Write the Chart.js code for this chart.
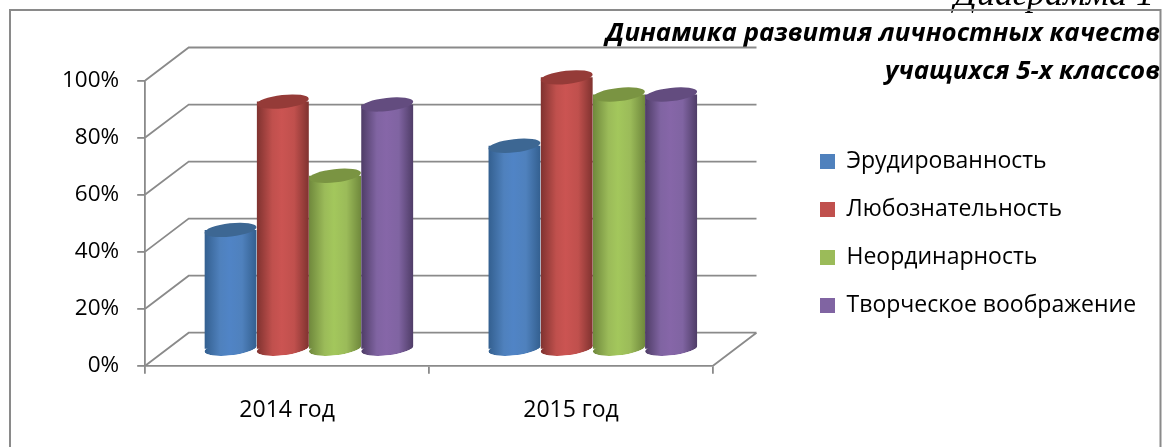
<!DOCTYPE html>
<html lang="ru">
  <head>
    <meta charset="UTF-8" />
    <title>Динамика развития личностных качеств</title>
    <style>
      html, body { margin: 0; padding: 0; background: #fff; overflow: hidden; }
      canvas { display: block; }
    </style>
    <script src="https://cdn.jsdelivr.net/npm/chart.js"></script>
  </head>
  <body>
    <canvas id="chart" width="1163" height="447"></canvas>
    <script>
      // values, percent
      const categories = ["2014 год", "2015 год"];
      const seriesNames = ["Эрудированность", "Любознательность", "Неординарность", "Творческое воображение"];
      const erudition = [42, 71.5];
      const curiosity = [87, 95.5];
      const originality = [61, 89.5];
      const imagination = [86, 89.5];
      const yTicks = [0, 20, 40, 60, 80, 100];
      const chartTitle = ["Динамика развития личностных качеств", "учащихся 5-х классов"];
      const pageCaption = "Диаграмма 1";

      const seriesValues = [erudition, curiosity, originality, imagination];

      // centre, edge and cap colour of each cylinder
      const mainColors = ["#4f81bd", "#c0504d", "#9bbb59", "#8064a2"];
      const lightColors = ["#5084c6", "#cb5452", "#a3c75c", "#8666a8"];
      const edgeColors = ["#335f8f", "#7f322f", "#6f883c", "#4e3c66"];
      const capColors = ["#3d6793", "#953b38", "#7a9442", "#634c7f"];

      const lineGrey = "#8a8a8a";
      const uiFont = "Open Sans";
      const catPct = 0.736;
      const depthX = 43.5; // depth of the floor
      const depthY = -33;
      const barX = depthX / 2; // bars stand in the middle of it
      const barY = -16;
      const capRy = 6.6;
      const capTilt = (-6.5 * Math.PI) / 180;

      function sideGradient(c) {
        const ds = c.datasetIndex;
        const x = c.chart.scales.x;
        const y = c.chart.ctx;
        const groupW = (x.width / categories.length) * catPct;
        const w = groupW / seriesValues.length;
        const left = x.getPixelForValue(c.dataIndex) - groupW / 2 + ds * w;
        const g = y.createLinearGradient(left, 0, left + w, 0);
        g.addColorStop(0, edgeColors[ds]);
        g.addColorStop(0.3, mainColors[ds]);
        g.addColorStop(0.48, lightColors[ds]);
        g.addColorStop(0.72, mainColors[ds]);
        g.addColorStop(1, edgeColors[ds]);
        return g;
      }

      function cylinderEnd(ctx, bar, y) {
        ctx.ellipse(bar.x, y, bar.width / 2, capRy, capTilt, 0, Math.PI * 2);
      }

      const wallPlugin = {
        id: "wall",
        beforeDatasetsDraw(chart) {
          const ctx = chart.ctx;
          const xs = chart.scales.x;
          const ys = chart.scales.y;
          ctx.save();
          ctx.strokeStyle = lineGrey;
          ctx.lineWidth = 1.8;
          ctx.beginPath();
          ys.ticks.forEach((t) => {
            const y = ys.getPixelForValue(t.value);
            ctx.moveTo(xs.left, y);
            ctx.lineTo(xs.left + depthX, y + depthY);
            ctx.lineTo(xs.right + depthX, y + depthY);
          });
          const y0 = ys.getPixelForValue(0);
          ctx.moveTo(xs.right, y0);
          ctx.lineTo(xs.right + depthX, y0 + depthY);
          ctx.stroke();
          ctx.restore();
        },
        // bars are moved back onto the floor, rounded at the foot, capped on top
        beforeDatasetDraw(chart, args) {
          const ctx = chart.ctx;
          ctx.save();
          ctx.translate(barX, barY);
          ctx.save();
          ctx.beginPath();
          args.meta.data.forEach((bar) => {
            const dy = (bar.width / 2) * Math.sin(capTilt);
            ctx.moveTo(bar.x - bar.width / 2, 0);
            ctx.lineTo(bar.x + bar.width / 2, 0);
            ctx.lineTo(bar.x + bar.width / 2, bar.base + dy);
            ctx.lineTo(bar.x - bar.width / 2, bar.base - dy);
            ctx.closePath();
            ctx.moveTo(bar.x + bar.width / 2, bar.base);
            cylinderEnd(ctx, bar, bar.base);
          });
          ctx.clip();
          args.meta.data.forEach((bar) => {
            ctx.fillStyle = bar.options.backgroundColor;
            ctx.beginPath();
            cylinderEnd(ctx, bar, bar.base);
            ctx.fill();
          });
        },
        afterDatasetDraw(chart, args) {
          const ctx = chart.ctx;
          ctx.restore();
          ctx.fillStyle = capColors[args.index];
          args.meta.data.forEach((bar) => {
            ctx.beginPath();
            cylinderEnd(ctx, bar, bar.y);
            ctx.fill();
          });
          ctx.restore();
        },
        afterLayout(chart) {
          // title runs past the plot, legend sits right of it
          chart.titleBlock.right = 1160;
          const lg = chart.legend;
          lg.left = 795;
          lg.right = 1160;
          lg.top = 125;
          lg.bottom = 440;
        },
        afterDraw(chart) {
          const ctx = chart.ctx;
          ctx.save();
          ctx.fillStyle = "#000";
          ctx.font = "italic 36px 'Liberation Serif'";
          ctx.textAlign = "right";
          ctx.textBaseline = "alphabetic";
          ctx.fillText(pageCaption, 1154, 5);
          ctx.strokeStyle = lineGrey;
          ctx.lineWidth = 2;
          ctx.beginPath();
          ctx.moveTo(10, 447);
          ctx.lineTo(10, 10);
          ctx.lineTo(1160.5, 10);
          ctx.lineTo(1160.5, 447);
          ctx.stroke();
          ctx.restore();
        },
      };

      new Chart(document.getElementById("chart"), {
        type: "bar",
        data: {
          labels: categories,
          datasets: seriesNames.map((name, i) => ({
            label: name,
            data: seriesValues[i],
            backgroundColor: sideGradient,
            borderWidth: 0,
            clip: false,
          })),
        },
        plugins: [wallPlugin],
        options: {
          responsive: false,
          animation: false,
          devicePixelRatio: 1,
          barPercentage: 1,
          categoryPercentage: catPct,
          layout: { padding: { left: 44, right: 450, top: 0, bottom: 0.7 } },
          scales: {
            x: {
              grid: { drawOnChartArea: false, color: lineGrey, lineWidth: 1.8, tickLength: 8 },
              border: { color: lineGrey, width: 1.8 },
              ticks: { color: "#000", padding: 22.5, font: { family: uiFont, size: 23 } },
            },
            y: {
              min: 0,
              max: 100,
              afterBuildTicks(axis) {
                axis.ticks = yTicks.map((v) => ({ value: v }));
              },
              grid: { drawOnChartArea: false, color: lineGrey, lineWidth: 1.8, tickLength: 8 },
              border: { color: lineGrey, width: 1.8 },
              ticks: {
                color: "#000",
                padding: 18,
                font: { family: uiFont, size: 22.5 },
                callback: (v) => v + "%",
              },
            },
          },
          plugins: {
            tooltip: { enabled: false },
            title: {
              display: true,
              text: chartTitle,
              align: "end",
              color: "#000",
              font: { family: uiFont, size: 25.8, weight: "bold", style: "italic", lineHeight: 1.473 },
              padding: { top: 15, bottom: -10.5 },
            },
            legend: {
              position: "chartArea",
              align: "start",
              labels: {
                boxWidth: 15,
                boxHeight: 15,
                padding: 25,
                color: "#000",
                font: { family: uiFont, size: 23 },
                generateLabels: () =>
                  seriesNames.map((name, i) => ({
                    text: name,
                    fillStyle: mainColors[i],
                    lineWidth: 0,
                    strokeStyle: mainColors[i],
                    datasetIndex: i,
                  })),
              },
            },
          },
        },
      });
    </script>
  </body>
</html>
